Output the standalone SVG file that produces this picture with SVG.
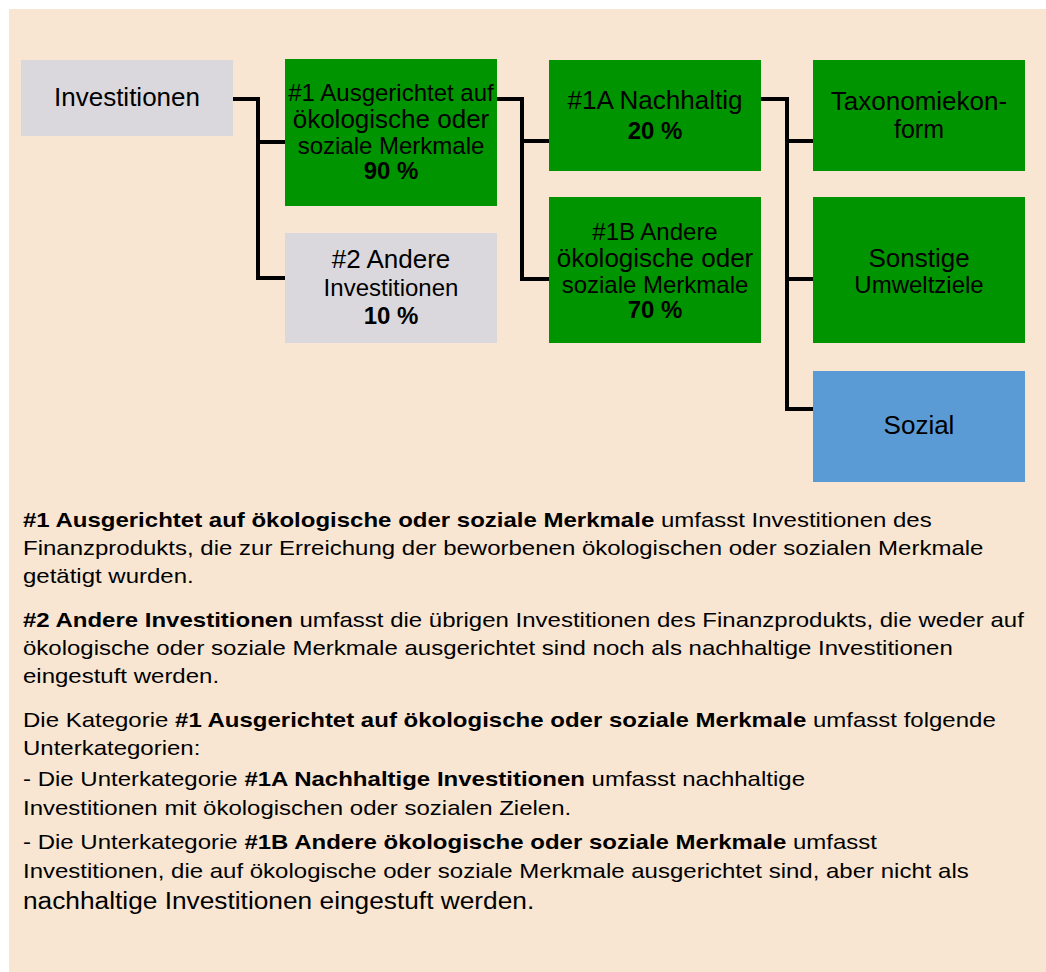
<svg xmlns="http://www.w3.org/2000/svg" width="1046" height="972" viewBox="0 0 1046 972">
<style>
.g{fill:#009400}
.gr{fill:#dbd8dd}
.bl{fill:#5b9bd5}
.t{font-family:"Liberation Sans",Arial,sans-serif;fill:#000;text-anchor:middle}
.b{font-weight:bold}
.body{font-family:"Liberation Sans",Arial,sans-serif;fill:#000;font-size:21px}
.conn{fill:none;stroke:#000;stroke-width:4}
</style>
<rect x="0" y="0" width="1046" height="972" fill="#fff"/>
<rect x="9" y="9" width="1037" height="963" fill="#f8e6d3"/>
<g id="connectors">
<path class="conn" d="M233 99 H258 V278 H285 M258 142 H285"/>
<path class="conn" d="M497 99 H522 V279 H549 M522 141 H549"/>
<path class="conn" d="M761 99 H787 V409 H813 M787 141 H813 M787 279 H813"/>
</g>
<g id="investitionen">
<rect class="gr" x="21" y="60" width="212" height="76"/>
<text class="t" x="127" y="106" font-size="26">Investitionen</text>
</g>
<g id="n1">
<rect class="g" x="285" y="59" width="212" height="147"/>
<text class="t" x="391" y="101" font-size="24">#1 Ausgerichtet auf</text>
<text class="t" x="391" y="128" font-size="26">ökologische oder</text>
<text class="t" x="391" y="154" font-size="24">soziale Merkmale</text>
<text class="t b" x="391" y="179" font-size="24">90 %</text>
</g>
<g id="n2">
<rect class="gr" x="285" y="233" width="212" height="110"/>
<text class="t" x="391" y="268" font-size="26">#2 Andere</text>
<text class="t" x="391" y="296" font-size="24">Investitionen</text>
<text class="t b" x="391" y="324" font-size="24">10 %</text>
</g>
<g id="n1a">
<rect class="g" x="549" y="60" width="212" height="111"/>
<text class="t" x="655" y="109" font-size="26">#1A Nachhaltig</text>
<text class="t b" x="655" y="139" font-size="24">20 %</text>
</g>
<g id="n1b">
<rect class="g" x="549" y="197" width="212" height="146"/>
<text class="t" x="655" y="240" font-size="24">#1B Andere</text>
<text class="t" x="655" y="267" font-size="26">ökologische oder</text>
<text class="t" x="655" y="293" font-size="24">soziale Merkmale</text>
<text class="t b" x="655" y="318" font-size="24">70 %</text>
</g>
<g id="taxonomie">
<rect class="g" x="813" y="60" width="212" height="111"/>
<text class="t" x="919" y="110" font-size="26">Taxonomiekon-</text>
<text class="t" x="919" y="138" font-size="25">form</text>
</g>
<g id="sonstige">
<rect class="g" x="813" y="197" width="212" height="146"/>
<text class="t" x="919" y="267" font-size="26">Sonstige</text>
<text class="t" x="919" y="293" font-size="24">Umweltziele</text>
</g>
<g id="sozial">
<rect class="bl" x="813" y="371" width="212" height="111"/>
<text class="t" x="919" y="434" font-size="26">Sozial</text>
</g>
<g id="legend" transform="scale(1.143,1)">
<text class="body" x="20.1" y="527"><tspan class="b">#1 Ausgerichtet auf ökologische oder soziale Merkmale</tspan> umfasst Investitionen des</text>
<text class="body" x="20.1" y="555">Finanzprodukts, die zur Erreichung der beworbenen ökologischen oder sozialen Merkmale</text>
<text class="body" x="20.1" y="583">getätigt wurden.</text>
<text class="body" x="20.1" y="627"><tspan class="b">#2 Andere Investitionen</tspan> umfasst die übrigen Investitionen des Finanzprodukts, die weder auf</text>
<text class="body" x="20.1" y="655">ökologische oder soziale Merkmale ausgerichtet sind noch als nachhaltige Investitionen</text>
<text class="body" x="20.1" y="683">eingestuft werden.</text>
<text class="body" x="20.1" y="727">Die Kategorie <tspan class="b">#1 Ausgerichtet auf ökologische oder soziale Merkmale</tspan> umfasst folgende</text>
<text class="body" x="20.1" y="755">Unterkategorien:</text>
<text class="body" x="20.1" y="786">- Die Unterkategorie <tspan class="b">#1A Nachhaltige Investitionen</tspan> umfasst nachhaltige</text>
<text class="body" x="20.1" y="815">Investitionen mit ökologischen oder sozialen Zielen.</text>
<text class="body" x="20.1" y="849">- Die Unterkategorie <tspan class="b">#1B Andere ökologische oder soziale Merkmale</tspan> umfasst</text>
<text class="body" x="20.1" y="878">Investitionen, die auf ökologische oder soziale Merkmale ausgerichtet sind, aber nicht als</text>
<text class="body" x="20.1" y="909" style="font-size:23px">nachhaltige Investitionen eingestuft werden.</text>
</g>
</svg>
